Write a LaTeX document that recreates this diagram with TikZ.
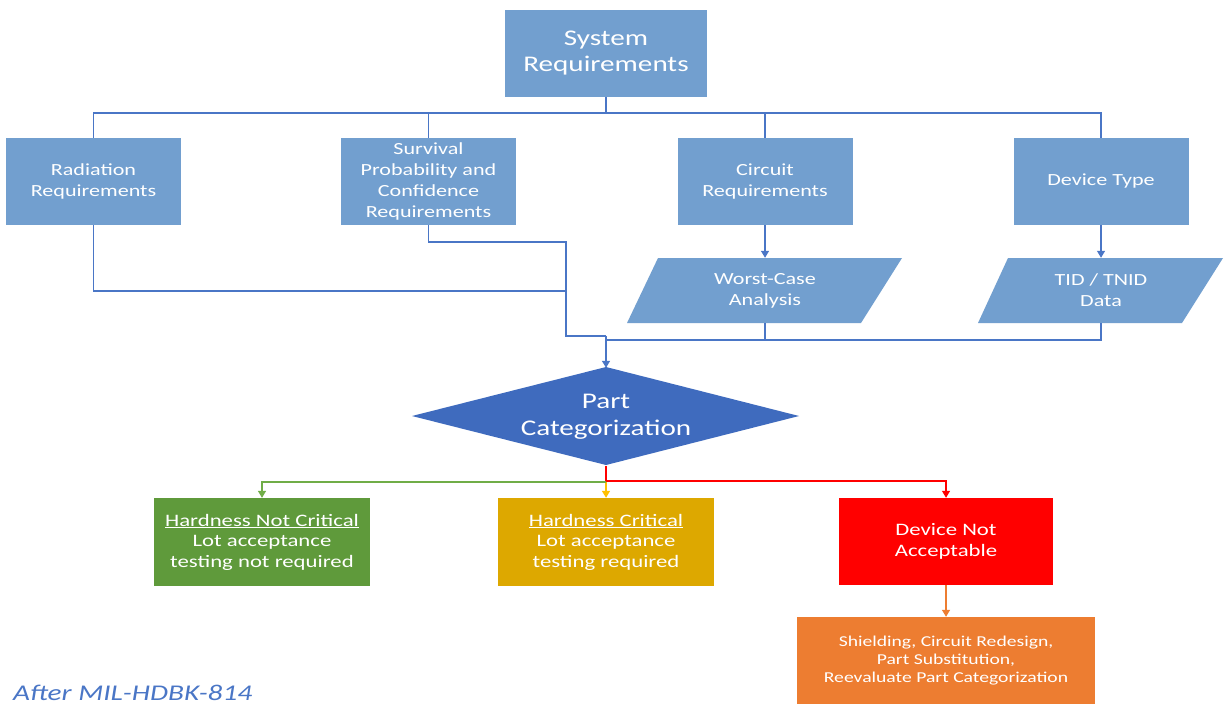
\documentclass[tikz,border=0pt]{standalone}
\usepackage{fontspec}
\setmainfont{Carlito}[FakeStretch=1.3]
\usetikzlibrary{arrows.meta}
\definecolor{boxblue}{HTML}{729FCF}
\definecolor{lineblue}{HTML}{4A76C6}
\definecolor{diablue}{HTML}{3F6BBE}
\definecolor{ggreen}{HTML}{5F9A3B}
\definecolor{glgreen}{HTML}{70AD47}
\definecolor{ggold}{HTML}{DDA800}
\definecolor{glgold}{HTML}{FFC000}
\definecolor{rred}{HTML}{FF0000}
\definecolor{oorange}{HTML}{ED7D31}
\begin{document}
\begin{tikzpicture}[x=1pt,y=-1pt,
  box/.style={fill=boxblue, text=white, minimum width=175pt, minimum height=87pt,
    align=center, inner sep=0pt, font=\fontsize{17}{21}\selectfont},
  txt/.style={text=white, align=center, inner sep=0pt, font=\fontsize{17}{21}\selectfont},
  cbox/.style={text=white, align=center, inner sep=0pt, minimum width=216pt,
    minimum height=88pt, font=\fontsize{17.5}{20.5}\selectfont},
  conn/.style={lineblue, line width=1.3pt},
  arr/.style={-{Triangle[width=8pt,length=7pt]}}
]
\useasboundingbox (0,0) rectangle (1225,704);
\fill[white] (0,0) rectangle (1225,704);

% top
\node[box, minimum width=202pt, minimum height=87pt, font=\fontsize{22.4}{26}\selectfont] (sys) at (606,53.5) {System\\Requirements};
\node[box] (rad) at (93.5,181.5) {Radiation\\Requirements};
\node[box] (surv) at (428.5,181.5) {Survival\\Probability and\\Confidence\\Requirements};
\node[box] (circ) at (765,181.5) {Circuit\\Requirements};
\node[box] (dev) at (1101,181.5) {Device Type};

% parallelograms
\fill[boxblue] (658,258) -- (902,258) -- (861,323) -- (627,323) -- cycle;
\node[txt, minimum width=200pt, minimum height=65pt] (wca) at (765,290.5) {Worst-Case\\Analysis};
\fill[boxblue] (1008,258) -- (1223,258) -- (1182,323) -- (978,323) -- cycle;
\node[txt, minimum width=180pt, minimum height=65pt] (tid) at (1101,290.5) {TID / TNID\\Data};

% diamond
\fill[diablue] (412,416) -- (606,367) -- (799,416) -- (606,465) -- cycle;
\node[txt, minimum width=386pt, minimum height=98pt, font=\fontsize{22.4}{27}\selectfont] (part) at (606,417) {Part\\Categorization};

% bottom boxes
\node[cbox, fill=ggreen] (hnc) at (262,542) {\underline{Hardness Not Critical}\\Lot acceptance\\testing not required};
\node[cbox, fill=ggold] (hc) at (606,542) {\underline{Hardness Critical}\\Lot acceptance\\testing required};
\node[cbox, fill=rred, minimum width=214pt, minimum height=87pt] (na) at (946,541.5) {Device Not\\Acceptable};
\node[cbox, fill=oorange, minimum width=298pt, minimum height=87pt, font=\fontsize{15.1}{17.7}\selectfont] (fix) at (946,660.5) {Shielding, Circuit Redesign,\\Part Substitution,\\Reevaluate Part Categorization};

\node[anchor=base west, inner sep=0pt, text=lineblue, font=\itshape\fontsize{22.5}{26}\selectfont] (src) at (13,700) {After MIL-HDBK-814};

% connectors top
\coordinate (bus) at (606,113);
\draw[conn] (sys.south) -- (bus);
\draw[conn] (rad.north) |- (bus) -| (dev.north);
\draw[conn] (surv.north) -- (surv.north |- bus);
\draw[conn] (circ.north) -- (circ.north |- bus);
\draw[conn,arr] (circ.south) -- (wca.north);
\draw[conn,arr] (dev.south) -- (tid.north);

\coordinate (j1) at (566,242);
\coordinate (j2) at (566,291);
\coordinate (m1) at (606,336);
\coordinate (m2) at (606,340);
\draw[conn] (surv.south) |- (j1) |- (m1);
\draw[conn] (rad.south) |- (j2);
\draw[conn] (wca.south) |- (m2);
\draw[conn] (tid.south) |- (m2);
\draw[conn,arr] (m1) -- (part.north);

% connectors bottom
\coordinate (b) at (606,482);
\coordinate (br) at (606,481);
\draw[glgold, line width=1.3pt, arr] (b) -- (hc.north);
\draw[glgreen, line width=1.3pt, arr] (b) -| (hnc.north);
\draw[rred, line width=1.3pt] (part.south) -- (br);
\draw[rred, line width=1.3pt, arr] (br) -| (na.north);
\draw[oorange, line width=1.3pt, arr] (na.south) -- (fix.north);
\end{tikzpicture}
\end{document}
